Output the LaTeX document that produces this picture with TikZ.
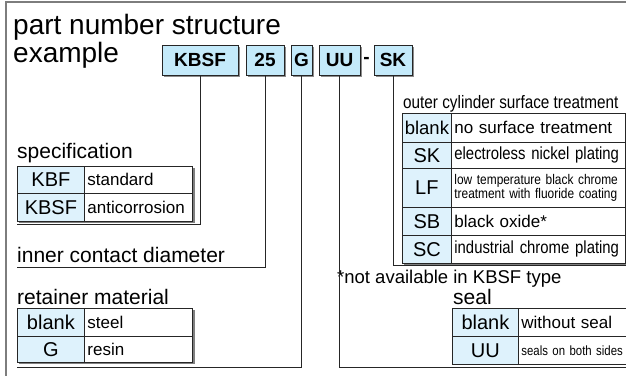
\documentclass[tikz,border=0pt]{standalone}
\usepackage{fontspec}
\setmainfont{Liberation Sans}
\newfontfamily\condfont[FakeStretch=0.85]{Liberation Sans}
\usetikzlibrary{shadows}
\definecolor{boxblue}{RGB}{196,234,250}
\definecolor{cellblue}{RGB}{222,242,252}
\definecolor{framegray}{RGB}{125,125,125}
\newcommand{\fsz}[1]{\fontsize{#1}{#1}\selectfont}
\begin{document}
\begin{tikzpicture}[x=1pt,y=-1pt,
  pbox/.style={draw=black!85, line width=0.9pt, fill=boxblue, font=\bfseries\fsz{19}, inner sep=0, minimum height=30,
    drop shadow={shadow xshift=1.5pt, shadow yshift=-1.5pt, fill=black!45, opacity=1}},
  codecell/.style={draw=black!85, line width=0.8pt, fill=cellblue, inner sep=0, anchor=north west, font=\fsz{20}},
  desccell/.style={draw=black!85, line width=0.8pt, fill=white, inner xsep=3pt, inner ysep=0, anchor=north west, align=left, font=\fsz{17}},
  lab/.style={anchor=base west, inner sep=0, font=\fsz{21}},
  conn/.style={draw=black!85, line width=0.9pt},
  tshadow/.style={fill=black!50}]
\useasboundingbox (0,0) rectangle (626,375);
% frame
\draw[framegray, line width=2pt] (6,380) -- (6,2) -- (630,2);
% title
\node[anchor=base west, inner sep=0, align=left, font=\fontsize{28}{25}\selectfont] (title) at (13,62) {part number structure\\example};
% part number boxes
\node[pbox, minimum width=76] (kbsf) at (200,60) {KBSF};
\node[pbox, minimum width=38] (p25) at (265,60) {25};
\node[pbox, minimum width=21] (pg) at (301.5,60) {G};
\node[pbox, minimum width=41] (puu) at (339.5,60) {UU};
\node[inner sep=0, font=\bfseries\fsz{19}] (dash) at (366.5,60) {-};
\node[pbox, minimum width=38] (psk) at (393,60) {SK};
% specification
\node[lab] (lspec) at (17,158) {specification};
\fill[tshadow] (19,168) rectangle (194.5,223);
\node[codecell, minimum width=67, minimum height=27] (s1c) at (17,166) {KBF};
\node[desccell, text width=102, minimum height=27] (s1d) at (84,166) {standard};
\node[codecell, minimum width=67, minimum height=28] (s2c) at (17,193) {KBSF};
\node[desccell, text width=102, minimum height=28] (s2d) at (84,193) {anticorrosion};
% inner contact diameter
\node[lab] (lidia) at (17,262) {inner contact diameter};
% retainer material
\node[lab] (lret) at (17,304) {retainer material};
\fill[tshadow] (19,310) rectangle (194.5,364);
\node[codecell, minimum width=67, minimum height=28] (r1c) at (17,308) {blank};
\node[desccell, text width=102, minimum height=28] (r1d) at (84,308) {steel};
\node[codecell, minimum width=67, minimum height=26] (r2c) at (17,336) {G};
\node[desccell, text width=102, minimum height=26] (r2d) at (84,336) {resin};
% outer cylinder surface treatment
\node[anchor=base west, inner sep=0, font=\condfont\fsz{18}] (lout) at (403,108) {outer cylinder surface treatment};
\fill[tshadow] (404,115) rectangle (628,265);
\node[codecell, minimum width=49, minimum height=29, font=\fsz{18.5}] (o1c) at (402,113) {blank};
\node[desccell, text width=168, minimum height=29] (o1d) at (451,113) {no surface treatment};
\node[codecell, minimum width=49, minimum height=26] (o2c) at (402,142) {SK};
\node[desccell, text width=168, minimum height=26, font=\condfont\fsz{17.5}] (o2d) at (451,142) {electroless nickel plating};
\node[codecell, minimum width=49, minimum height=39] (o3c) at (402,168) {LF};
\node[desccell, text width=168, minimum height=39, font=\condfont\fontsize{14}{11}\selectfont] (o3d) at (451,168) {low temperature black chrome\\treatment with fluoride coating};
\node[codecell, minimum width=49, minimum height=28] (o4c) at (402,207) {SB};
\node[desccell, text width=168, minimum height=28] (o4d) at (451,207) {black oxide*};
\node[codecell, minimum width=49, minimum height=28] (o5c) at (402,235) {SC};
\node[desccell, text width=168, minimum height=28, font=\condfont\fsz{17.5}] (o5d) at (451,235) {industrial chrome plating};
% note
\node[anchor=base west, inner sep=0, font=\fsz{18.5}] (note) at (337,283) {*not available in KBSF type};
% seal
\node[lab] (lseal) at (453,304) {seal};
\node[codecell, minimum width=66, minimum height=28] (e1c) at (452,308) {blank};
\node[desccell, text width=102, minimum height=28] (e1d) at (518,308) {without seal};
\node[codecell, minimum width=66, minimum height=28] (e2c) at (452,336) {UU};
\node[desccell, text width=102, minimum height=28, font=\condfont\fsz{13.4}] (e2d) at (518,336) {\mbox{seals on both sides}};
% connector ends
\coordinate (c1) at (17,224);
\coordinate (c2) at (17,267);
\coordinate (c3) at (17,367);
\coordinate (c4) at (630,367);
\coordinate (c5) at (630,265);
\draw[conn] (kbsf.south) -- (kbsf.south |- c1) -- (c1);
\draw[conn] (p25.south) -- (p25.south |- c2) -- (c2);
\draw[conn] (pg.south) -- (pg.south |- c3) -- (c3);
\draw[conn] (puu.south) -- (puu.south |- c4) -- (c4);
\draw[conn] (psk.south) -- (psk.south |- c5) -- (c5);
\end{tikzpicture}
\end{document}
